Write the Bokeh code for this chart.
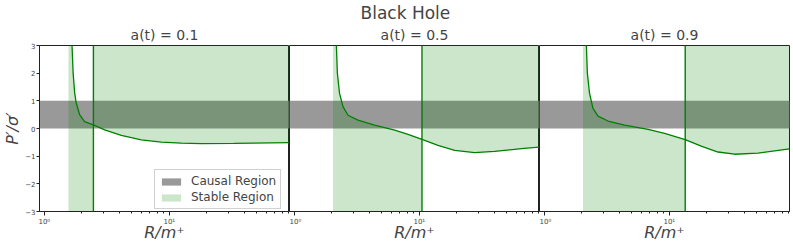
import numpy as np
from bokeh.plotting import figure
from bokeh.layouts import row
from bokeh.models import Range1d, FixedTicker, Legend, LegendItem, Title, Span
from bokeh.embed import file_html
from bokeh.resources import INLINE

# ---------------- data ----------------
suptitle = "Black Hole"
panel_titles = ["a(t) = 0.1", "a(t) = 0.5", "a(t) = 0.9"]

R1 = [1.56, 1.62, 1.666, 1.70, 1.75, 1.80, 1.92, 2.10, 2.47, 3.04, 4.13, 5.97, 8.63, 12.5, 18.0, 33.0, 91.5]
P1 = [40.0, 6.0, 3.0, 2.0, 1.28, 0.92, 0.49, 0.25, 0.13, -0.05, -0.25, -0.41, -0.49, -0.53, -0.55, -0.54, -0.51]

R2 = [2.04, 2.12, 2.17, 2.21, 2.30, 2.45, 2.69, 3.23, 4.39, 6.35, 8.12, 10.5, 14.1, 19.2, 27.7, 40.0, 65.5, 91.5]
P2 = [40.0, 6.0, 3.0, 2.0, 1.27, 0.79, 0.48, 0.30, 0.12, -0.06, -0.21, -0.39, -0.61, -0.79, -0.87, -0.83, -0.73, -0.67]

R3 = [2.04, 2.12, 2.17, 2.21, 2.30, 2.45, 2.69, 3.23, 4.39, 6.76, 9.17, 13.4, 18.0, 24.5, 33.3, 51.2, 91.5]
P3 = [40.0, 6.0, 3.0, 2.0, 1.27, 0.73, 0.45, 0.27, 0.12, -0.03, -0.18, -0.40, -0.64, -0.85, -0.93, -0.89, -0.74]

R_stable_switch = [2.47, 10.5, 13.4]   # vertical line position

x_lo, x_hi = 0.915, 91.5
y_lo, y_hi = -3, 3
causal_lo, causal_hi = 0, 1
y_ticks = [-3, -2, -1, 0, 1, 2, 3]
y_tick_labels = {-3: "\u22123", -2: "\u22122", -1: "\u22121", 0: "0", 1: "1", 2: "2", 3: "3"}
x_tick_labels = {1: "10\u2070", 10: "10\u00b9", 100: "10\u00b2"}

FONT = "DejaVu Sans"
GREEN = "green"
SPINE = "#222222"


def make_panel(idx, R, P, rv):
    first = idx == 0
    last = idx == 2
    p = figure(x_axis_type="log",
               x_range=Range1d(x_lo, x_hi), y_range=Range1d(y_lo, y_hi),
               frame_width=250, frame_height=166,
               output_backend="svg", toolbar_location=None,
               y_axis_location="left" if first else None,
               min_border_left=30 if first else 0,
               min_border_right=5 if last else 0,
               min_border_top=44, min_border_bottom=0,
               background_fill_color="white", border_fill_color="white")
    p.outline_line_color = SPINE
    p.outline_line_width = 1
    p.outline_line_alpha = 1
    p.grid.visible = False

    if idx == 1:
        p.title.text = suptitle
        p.title.text_font_size = "17px"
        p.title.align = "left"
        p.title.offset = 71
        p.title.standoff = 0
    else:
        p.title.text = panel_titles[idx]
        p.title.text_font_size = "14px"
        p.title.align = "center"
        p.title.standoff = 5
    p.title.text_font = FONT
    p.title.text_font_style = "normal"
    if idx == 1:
        t = Title(text=panel_titles[idx], align="center", text_font=FONT, text_font_size="14px",
                  text_font_style="normal", standoff=5)
        p.add_layout(t, "above")

    R = np.array(R, dtype=float)
    P = np.array(P, dtype=float)

    # causal band
    band = p.varea(x=[x_lo * 0.9, x_hi * 1.1], y1=[causal_lo, causal_lo], y2=[causal_hi, causal_hi],
                   fill_color="gray", fill_alpha=0.8)

    # stable regions
    left = R <= rv
    right = R >= rv
    fill_l = p.varea(x=R[left], y1=np.full(left.sum(), y_lo - 1.0), y2=P[left],
                     fill_color=GREEN, fill_alpha=0.2)
    p.varea(x=R[right], y1=P[right], y2=np.full(right.sum(), y_hi + 1.0),
            fill_color=GREEN, fill_alpha=0.2)

    # curve and vertical line
    p.line(R, P, line_color=GREEN, line_width=1.3)
    p.add_layout(Span(location=rv, dimension="height", line_color=GREEN, line_width=1.4))

    # x axis
    xa = p.xaxis[0]
    xa.axis_label = "R/m\u207a"
    xa.axis_label_text_font = FONT
    xa.axis_label_text_font_size = "16px"
    xa.axis_label_text_font_style = "italic"
    xa.axis_label_standoff = -6
    xa.major_label_text_font = FONT
    xa.major_label_text_font_size = "7px"
    xa.major_label_overrides = x_tick_labels
    xa.major_label_standoff = 2
    xa.major_tick_in = 0
    xa.major_tick_out = 4
    xa.minor_tick_in = 0
    xa.minor_tick_out = 2
    xa.axis_line_color = SPINE
    xa.major_tick_line_color = SPINE
    xa.minor_tick_line_color = SPINE

    if first:
        ya = p.yaxis[0]
        ya.ticker = FixedTicker(ticks=y_ticks, minor_ticks=[])
        ya.major_label_overrides = y_tick_labels
        ya.axis_label = "P\u2032/\u03c3\u2032"
        ya.axis_label_text_font = FONT
        ya.axis_label_text_font_size = "16px"
        ya.axis_label_text_font_style = "italic"
        ya.axis_label_standoff = 0
        ya.major_label_text_font = FONT
        ya.major_label_text_font_size = "7px"
        ya.major_label_standoff = 1
        ya.major_tick_in = 0
        ya.major_tick_out = 3
        ya.axis_line_color = SPINE
        ya.major_tick_line_color = SPINE

        legend = Legend(items=[LegendItem(label="Causal Region", renderers=[band]),
                               LegendItem(label="Stable Region", renderers=[fill_l])],
                        location=(115, 2), margin=0, padding=4, spacing=2,
                        glyph_width=24, glyph_height=9, label_standoff=8,
                        label_text_font=FONT, label_text_font_size="12px",
                        label_height=12,
                        border_line_color="#cccccc", border_line_alpha=0.9,
                        background_fill_color="white", background_fill_alpha=0.8)
        p.add_layout(legend)
    return p


panels = [make_panel(i, R, P, rv) for i, (R, P, rv) in
          enumerate([(R1, P1, R_stable_switch[0]), (R2, P2, R_stable_switch[1]), (R3, P3, R_stable_switch[2])])]

layout = row(*panels)
open("out.html", "w").write(file_html(layout, INLINE))
